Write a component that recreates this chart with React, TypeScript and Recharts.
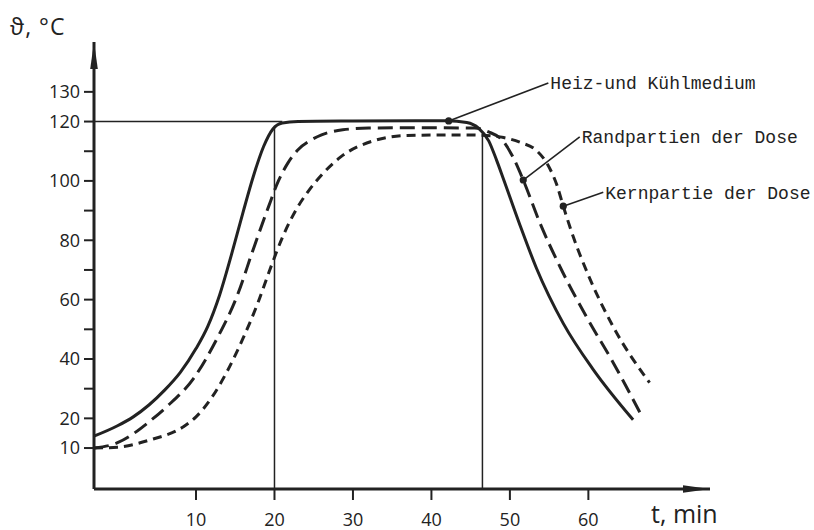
import { Label, Line, LineChart, ReferenceDot, ReferenceLine, XAxis, YAxis } from 'recharts';

// Temperaturverlauf beim Sterilisieren einer Dose
const heizT = [-3, 0, 2, 4, 6, 8, 10, 11.5, 13, 14.5, 16, 17.3, 18.6, 19.8, 21, 23, 30, 38, 42, 44.5, 46, 47.3, 48.3, 49.2, 51.3, 53.4, 56.8, 60.6, 65.7];
const heizV = [14, 17.5, 20.5, 24.5, 29.5, 35.5, 43.5, 51, 61.5, 75, 89.5, 101.5, 111.5, 117.5, 119.5, 120, 120.2, 120.3, 120.3, 119.7, 117.8, 113.5, 107, 100.5, 85, 70.5, 52, 36.5, 19.5];

const randT = [-3, 0, 2, 4, 6.3, 9.7, 12.8, 15.2, 17.3, 19.2, 20.5, 21.7, 23, 24.5, 26, 28.7, 32, 38, 45.5, 47.3, 49, 50.4, 51.7, 53.8, 56.4, 59.8, 63.2, 66.6];
const randV = [10, 11.8, 14.8, 18.8, 24, 33.5, 47.5, 61, 77, 91, 100, 106, 110.5, 113.5, 115.5, 117.2, 117.8, 117.9, 117.8, 116.5, 113.8, 108, 100.3, 86, 71, 54, 38.6, 21.8];

const kernT = [-3, 0, 4.1, 8.4, 10, 12, 14, 16, 17.9, 19.4, 21.1, 22.8, 24.3, 26, 28.4, 32.6, 36.9, 44, 47, 49.2, 51.3, 53.4, 54.7, 56, 56.8, 58.1, 60.2, 63.2, 67.8];
const kernV = [10, 10.3, 12.7, 17.2, 20.5, 27, 36, 47, 59, 70, 81.5, 90.5, 96.5, 102, 108, 113.5, 115.3, 115.5, 115.3, 114.6, 113, 110.2, 106, 98.5, 91.5, 81, 67, 50.7, 32];

const xTicks = [10, 20, 30, 40, 50, 60];
const yTicks = [10, 20, 30, 40, 50, 60, 70, 80, 90, 100, 110, 120, 130];
const yLabeled = [10, 20, 40, 60, 80, 100, 120, 130];

// Beschriftungen: Punkt auf der Kurve, Ende der Hinweislinie
const noteLabels = ['Heiz-und Kühlmedium', 'Randpartien der Dose', 'Kernpartie der Dose'];
const noteDotT = [42.2, 51.7, 56.8];
const noteDotV = [120.2, 100.3, 91.5];
const noteEndT = [54.9, 58.9, 61.9];
const noteEndV = [133, 114.8, 96.2];

const ink = '#222';
const sans = '"Open Sans", "DejaVu Sans", sans-serif';
const mono = '"Liberation Mono", "DejaVu Sans Mono", monospace';

const toPoints = (ts: number[], vs: number[]) => ts.map((t, i) => ({ t, v: vs[i] }));
const heiz = toPoints(heizT, heizV);
const rand = toPoints(randT, randV);
const kern = toPoints(kernT, kernV);

const yTitle = (props: any) => {
  const vb = props.viewBox ?? { x: 34, y: 42, width: 60 };
  return (
    <text x={vb.x + vb.width - 84} y={vb.y - 7} fill={ink} fontFamily={sans} fontSize={23} letterSpacing={1}>
      ϑ, °C
    </text>
  );
};

const xTitle = (props: any) => {
  const vb = props.viewBox ?? { x: 94, y: 489, width: 616 };
  return (
    <text x={vb.x + vb.width - 59} y={vb.y + 34} fill={ink} fontFamily={sans} fontSize={25}>
      t, min
    </text>
  );
};

export default function App() {
  return (
    <div style={{ position: 'absolute', left: 0, top: 0, width: 814, height: 530, background: '#fff' }}>
      <svg width={0} height={0} style={{ position: 'absolute' }}>
        <defs>
          <marker id="axisArrow" markerUnits="userSpaceOnUse" markerWidth={30} markerHeight={10}
            refX={27} refY={5} orient="auto-start-reverse">
            <path d="M0,1.2 L27,5 L0,8.8 Z" fill={ink} />
          </marker>
        </defs>
      </svg>
      <LineChart width={814} height={530} margin={{ top: 42, right: 104, bottom: 11, left: 34 }}>
        <XAxis type="number" dataKey="t" domain={[-3, 75.5]} ticks={xTicks} allowDataOverflow height={30}
          tickSize={11} tickMargin={13}
          axisLine={{ stroke: ink, strokeWidth: 3, markerEnd: 'url(#axisArrow)' }}
          tickLine={{ stroke: ink, strokeWidth: 2 }}
          tick={{ fill: ink, fontSize: 18, fontFamily: sans }}>
          <Label content={xTitle} />
        </XAxis>
        <YAxis type="number" dataKey="v" domain={[-3.8, 146.8]} ticks={yTicks} allowDataOverflow width={60}
          tickSize={10} tickMargin={4} interval={0}
          tickFormatter={(v: number) => (yLabeled.includes(v) ? String(v) : '')}
          axisLine={{ stroke: ink, strokeWidth: 3, markerStart: 'url(#axisArrow)' }}
          tickLine={{ stroke: ink, strokeWidth: 2 }}
          tick={{ fill: ink, fontSize: 18, fontFamily: sans }}>
          <Label content={yTitle} />
        </YAxis>

        <ReferenceLine segment={[{ x: -3, y: 120 }, { x: 21, y: 120 }]} stroke={ink} strokeWidth={1.5} ifOverflow="visible" />
        <ReferenceLine segment={[{ x: 20, y: -3.8 }, { x: 20, y: 118 }]} stroke={ink} strokeWidth={1.5} ifOverflow="visible" />
        <ReferenceLine segment={[{ x: 46.5, y: -3.8 }, { x: 46.5, y: 116 }]} stroke={ink} strokeWidth={1.5} ifOverflow="visible" />

        <Line data={heiz} dataKey="v" type="monotone" stroke={ink} strokeWidth={3} dot={false} isAnimationActive={false} />
        <Line data={rand} dataKey="v" type="monotone" stroke={ink} strokeWidth={3} strokeDasharray="15 7" dot={false} isAnimationActive={false} />
        <Line data={kern} dataKey="v" type="monotone" stroke={ink} strokeWidth={3} strokeDasharray="9 6" dot={false} isAnimationActive={false} />

        {noteLabels.map((label, i) => (
          <ReferenceLine key={`l${i}`} segment={[{ x: noteDotT[i], y: noteDotV[i] }, { x: noteEndT[i], y: noteEndV[i] }]}
            stroke={ink} strokeWidth={1.6} ifOverflow="visible" />
        ))}
        {noteLabels.map((label, i) => (
          <ReferenceDot key={`d${i}`} x={noteDotT[i]} y={noteDotV[i]} r={3.6} fill={ink} stroke="none" ifOverflow="visible" />
        ))}
        {noteLabels.map((label, i) => (
          <ReferenceDot key={`t${i}`} x={noteEndT[i]} y={noteEndV[i]} r={0} stroke="none" ifOverflow="visible"
            label={{ value: label, position: 'right', offset: 2, fill: ink, fontSize: 18, fontFamily: mono }} />
        ))}
      </LineChart>
    </div>
  );
}
